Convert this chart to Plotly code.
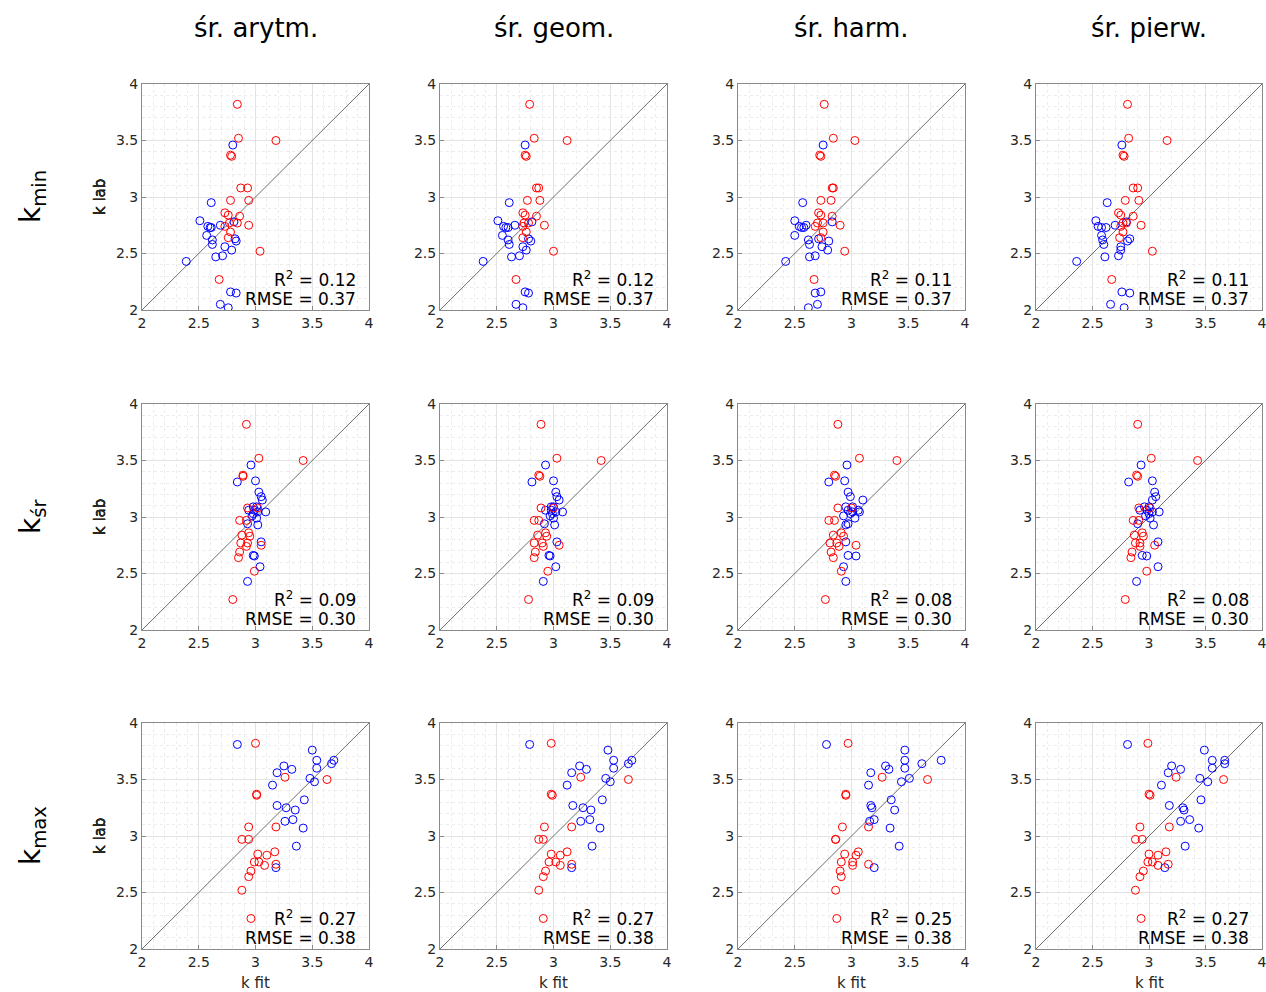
import plotly.graph_objects as go

# ---------------- data ----------------
col_titles = ["śr. arytm.", "śr. geom.", "śr. harm.", "śr. pierw."]
row_labels = ["k<sub>min</sub>", "k<sub>śr</sub>", "k<sub>max</sub>"]
tick_vals = [2, 2.5, 3, 3.5, 4]
tick_text = ["2", "2.5", "3", "3.5", "4"]

r2_vals = [["0.12", "0.12", "0.11", "0.11"],
           ["0.09", "0.09", "0.08", "0.08"],
           ["0.27", "0.27", "0.25", "0.27"]]
rmse_vals = [["0.37", "0.37", "0.37", "0.37"],
             ["0.30", "0.30", "0.30", "0.30"],
             ["0.38", "0.38", "0.38", "0.38"]]

# k lab (red group, same in every row)
red_lab = [3.82, 3.52, 3.50, 3.37, 3.36, 3.08, 3.08, 2.97, 2.97, 2.86,
           2.84, 2.83, 2.77, 2.77, 2.75, 2.74, 2.69, 2.64, 2.52, 2.27]
# k lab (blue group) per row
blue_lab_min = [3.46, 2.95, 2.79, 2.78, 2.75, 2.74, 2.73, 2.73, 2.66, 2.63, 2.62,
                2.61, 2.58, 2.56, 2.53, 2.48, 2.47, 2.43, 2.16, 2.15, 2.05, 2.02]
blue_lab_sr = [3.46, 3.32, 3.31, 3.22, 3.18, 3.15, 3.09, 3.09, 3.06, 3.06, 3.045,
               3.045, 3.03, 3.01, 2.99, 2.94, 2.93, 2.78, 2.66, 2.655, 2.56, 2.43]
blue_lab_max = [3.81, 3.76, 3.67, 3.67, 3.64, 3.62, 3.60, 3.59, 3.56, 3.51, 3.48,
                3.45, 3.32, 3.27, 3.25, 3.23, 3.145, 3.13, 3.07, 2.91, 2.72]

# k fit, row k_min
red_fit_min_ar = [2.84, 2.85, 3.18, 2.78, 2.79, 2.87, 2.93, 2.78, 2.94, 2.73,
                  2.76, 2.86, 2.84, 2.77, 2.94, 2.73, 2.78, 2.76, 3.04, 2.68]
blue_fit_min_ar = [2.80, 2.61, 2.51, 2.81, 2.69, 2.58, 2.60, 2.61, 2.57, 2.82, 2.62,
                   2.83, 2.62, 2.73, 2.79, 2.71, 2.65, 2.39, 2.78, 2.83, 2.69, 2.76]
red_fit_min_ge = [2.79, 2.83, 3.12, 2.75, 2.76, 2.85, 2.87, 2.77, 2.88, 2.73,
                  2.75, 2.85, 2.78, 2.74, 2.92, 2.73, 2.76, 2.73, 3.00, 2.67]
blue_fit_min_ge = [2.75, 2.61, 2.51, 2.81, 2.66, 2.56, 2.58, 2.60, 2.55, 2.78, 2.60,
                   2.80, 2.61, 2.73, 2.76, 2.70, 2.63, 2.38, 2.75, 2.78, 2.67, 2.73]
red_fit_min_ha = [2.76, 2.84, 3.03, 2.72, 2.73, 2.83, 2.84, 2.73, 2.82, 2.71,
                  2.73, 2.83, 2.75, 2.70, 2.90, 2.68, 2.75, 2.73, 2.94, 2.67]
blue_fit_min_ha = [2.75, 2.57, 2.50, 2.83, 2.60, 2.54, 2.56, 2.58, 2.50, 2.71, 2.62,
                   2.80, 2.63, 2.74, 2.79, 2.68, 2.63, 2.42, 2.73, 2.68, 2.70, 2.62]
red_fit_min_pi = [2.81, 2.82, 3.16, 2.77, 2.78, 2.86, 2.90, 2.79, 2.91, 2.73,
                  2.75, 2.86, 2.80, 2.77, 2.93, 2.75, 2.77, 2.74, 3.03, 2.67]
blue_fit_min_pi = [2.76, 2.63, 2.53, 2.80, 2.70, 2.55, 2.58, 2.62, 2.58, 2.83, 2.59,
                   2.81, 2.60, 2.75, 2.75, 2.73, 2.61, 2.36, 2.76, 2.83, 2.66, 2.78]

# k fit, row k_sr
red_fit_sr_ar = [2.92, 3.03, 3.42, 2.89, 2.89, 2.93, 3.02, 2.86, 2.92, 2.94,
                 2.88, 2.95, 2.87, 2.93, 3.05, 2.92, 2.86, 2.85, 2.99, 2.80]
blue_fit_sr_ar = [2.96, 3.00, 2.84, 3.03, 3.05, 3.06, 2.98, 3.01, 2.94, 2.99, 3.02,
                  3.09, 2.98, 2.97, 3.01, 2.93, 3.02, 3.05, 2.98, 2.99, 3.04, 2.93]
red_fit_sr_ge = [2.89, 3.03, 3.42, 2.87, 2.88, 2.89, 3.00, 2.83, 2.87, 2.93,
                 2.86, 2.94, 2.83, 2.90, 3.05, 2.91, 2.84, 2.83, 2.95, 2.78]
blue_fit_sr_ge = [2.93, 3.00, 2.81, 3.02, 3.03, 3.05, 2.98, 3.00, 2.93, 2.98, 3.02,
                  3.08, 2.99, 2.97, 3.00, 2.92, 3.01, 3.03, 2.96, 2.97, 3.02, 2.91]
red_fit_sr_ha = [2.88, 3.07, 3.40, 2.85, 2.86, 2.88, 3.00, 2.80, 2.85, 2.91,
                 2.84, 2.93, 2.81, 2.87, 3.04, 2.89, 2.82, 2.84, 2.91, 2.77]
blue_fit_sr_ha = [2.96, 2.94, 2.80, 2.97, 2.99, 3.10, 2.95, 3.01, 2.97, 3.06, 3.01,
                  3.07, 2.99, 2.93, 3.03, 2.97, 2.95, 2.95, 2.97, 3.04, 2.93, 2.95]
red_fit_sr_pi = [2.90, 3.02, 3.43, 2.89, 2.90, 2.91, 3.01, 2.86, 2.91, 2.94,
                 2.87, 2.95, 2.88, 2.92, 3.05, 2.92, 2.85, 2.84, 2.98, 2.79]
blue_fit_sr_pi = [2.93, 3.03, 2.82, 3.05, 3.06, 3.03, 2.96, 3.00, 2.92, 2.98, 3.03,
                  3.09, 3.00, 2.97, 3.01, 2.90, 3.04, 3.08, 2.94, 2.98, 3.08, 2.89]

# k fit, row k_max
red_fit_max_ar = [3.00, 3.26, 3.63, 3.01, 3.01, 2.94, 3.18, 2.88, 2.94, 3.17,
                  3.02, 3.10, 2.99, 3.03, 3.18, 3.08, 2.96, 2.94, 2.88, 2.96]
blue_fit_max_ar = [2.84, 3.50, 3.54, 3.69, 3.67, 3.25, 3.54, 3.32, 3.19, 3.48, 3.52,
                   3.15, 3.43, 3.19, 3.27, 3.35, 3.33, 3.26, 3.42, 3.36, 3.18]
red_fit_max_ge = [2.98, 3.24, 3.66, 2.98, 2.99, 2.92, 3.16, 2.87, 2.91, 3.12,
                  2.98, 3.06, 2.96, 3.02, 3.16, 3.06, 2.93, 2.91, 2.87, 2.91]
blue_fit_max_ge = [2.79, 3.48, 3.53, 3.69, 3.66, 3.23, 3.53, 3.29, 3.16, 3.46, 3.50,
                   3.12, 3.43, 3.17, 3.26, 3.33, 3.32, 3.24, 3.41, 3.34, 3.16]
red_fit_max_ha = [2.97, 3.27, 3.67, 2.95, 2.95, 2.92, 3.15, 2.86, 2.86, 3.06,
                  2.94, 3.04, 2.91, 3.01, 3.15, 3.01, 2.90, 2.91, 2.86, 2.87]
blue_fit_max_ha = [2.78, 3.47, 3.47, 3.79, 3.62, 3.30, 3.47, 3.33, 3.17, 3.51, 3.44,
                   3.15, 3.35, 3.17, 3.18, 3.38, 3.20, 3.16, 3.34, 3.42, 3.20]
red_fit_max_pi = [2.99, 3.24, 3.66, 3.00, 3.01, 2.92, 3.18, 2.88, 2.94, 3.15,
                  3.00, 3.08, 2.99, 3.03, 3.17, 3.08, 2.95, 2.92, 2.88, 2.93]
blue_fit_max_pi = [2.81, 3.49, 3.56, 3.67, 3.67, 3.20, 3.56, 3.28, 3.17, 3.45, 3.52,
                   3.11, 3.46, 3.18, 3.30, 3.31, 3.36, 3.28, 3.44, 3.32, 3.14]

# ---------------- assemble ----------------
blue_labs = [blue_lab_min, blue_lab_sr, blue_lab_max]
red_fits = [[red_fit_min_ar, red_fit_min_ge, red_fit_min_ha, red_fit_min_pi],
            [red_fit_sr_ar, red_fit_sr_ge, red_fit_sr_ha, red_fit_sr_pi],
            [red_fit_max_ar, red_fit_max_ge, red_fit_max_ha, red_fit_max_pi]]
blue_fits = [[blue_fit_min_ar, blue_fit_min_ge, blue_fit_min_ha, blue_fit_min_pi],
             [blue_fit_sr_ar, blue_fit_sr_ge, blue_fit_sr_ha, blue_fit_sr_pi],
             [blue_fit_max_ar, blue_fit_max_ge, blue_fit_max_ha, blue_fit_max_pi]]

W, H = 1266, 992
col_px = [(142, 369), (440, 667), (738, 965), (1036, 1262)]
row_px = [(84, 310), (404, 630), (723, 949)]

FONT = "DejaVu Sans"
AXC = "#8a8a8a"
TXT = "#262626"

fig = go.Figure()
annotations = []
layout_axes = {}

for r in range(3):
    for c in range(4):
        i = r * 4 + c + 1
        xa = "x" if i == 1 else f"x{i}"
        ya = "y" if i == 1 else f"y{i}"
        xkey = "xaxis" if i == 1 else f"xaxis{i}"
        ykey = "yaxis" if i == 1 else f"yaxis{i}"
        x0, x1 = col_px[c]
        y0, y1 = row_px[r]
        common = dict(
            range=[2, 4], tickvals=tick_vals, ticktext=tick_text,
            showline=True, mirror=True, linecolor=AXC, linewidth=1,
            ticks="inside", ticklen=4, tickcolor=AXC,
            showgrid=True, gridcolor="#e3e3e3", gridwidth=1,
            minor=dict(dtick=0.1, showgrid=True, gridcolor="#ececec",
                       griddash="dot", ticks=""),
            zeroline=False, fixedrange=True, automargin=False,
            ticklabeloverflow="allow",
            tickfont=dict(family=FONT, size=14, color=TXT),
        )
        layout_axes[xkey] = dict(common, domain=[x0 / W, x1 / W], anchor=ya)
        layout_axes[ykey] = dict(common, domain=[1 - y1 / H, 1 - y0 / H], anchor=xa)

        # diagonal 1:1 line
        fig.add_trace(go.Scatter(x=[2, 4], y=[2, 4], mode="lines",
                                 line=dict(color="#6e6e6e", width=1),
                                 xaxis=xa, yaxis=ya, showlegend=False,
                                 hoverinfo="skip"))
        fig.add_trace(go.Scatter(x=blue_fits[r][c], y=blue_labs[r], mode="markers",
                                 marker=dict(symbol="circle-open", size=8,
                                             color="#0000ff", line=dict(width=1)),
                                 xaxis=xa, yaxis=ya, showlegend=False))
        fig.add_trace(go.Scatter(x=red_fits[r][c], y=red_lab, mode="markers",
                                 marker=dict(symbol="circle-open", size=8,
                                             color="#ff0000", line=dict(width=1)),
                                 xaxis=xa, yaxis=ya, showlegend=False))

        annotations.append(dict(
            xref=xa, yref=ya, x=3.9, y=2.27, xanchor="right", yanchor="middle",
            text=f"R<sup>2</sup> = {r2_vals[r][c]}", showarrow=False,
            font=dict(family=FONT, size=17, color="#000000")))
        annotations.append(dict(
            xref=xa, yref=ya, x=3.9, y=2.10, xanchor="right", yanchor="middle",
            text=f"RMSE = {rmse_vals[r][c]}", showarrow=False,
            font=dict(family=FONT, size=17, color="#000000")))

        # y label
        annotations.append(dict(
            xref="paper", yref="paper", x=100 / W, y=1 - (y0 + y1) / 2 / H,
            text="k lab", textangle=-90, showarrow=False,
            xanchor="center", yanchor="middle",
            font=dict(family=FONT, size=15, color=TXT)))
        if r == 2:
            annotations.append(dict(
                xref="paper", yref="paper", x=(x0 + x1) / 2 / W, y=1 - 983 / H,
                text="k fit", showarrow=False, xanchor="center", yanchor="middle",
                font=dict(family=FONT, size=15, color=TXT)))

for c in range(4):
    x0, x1 = col_px[c]
    annotations.append(dict(
        xref="paper", yref="paper", x=(x0 + x1) / 2 / W, y=1 - 28 / H,
        text=col_titles[c], showarrow=False, xanchor="center", yanchor="middle",
        font=dict(family=FONT, size=26, color="#000000")))

for r in range(3):
    y0, y1 = row_px[r]
    annotations.append(dict(
        xref="paper", yref="paper", x=32 / W, y=1 - (y0 + y1) / 2 / H,
        text=row_labels[r], textangle=-90, showarrow=False,
        xanchor="center", yanchor="middle",
        font=dict(family=FONT, size=28, color="#000000")))

fig.update_layout(
    width=W, height=H,
    margin=dict(l=0, r=0, t=0, b=0, pad=0, autoexpand=False),
    paper_bgcolor="white", plot_bgcolor="white",
    showlegend=False, annotations=annotations,
    **layout_axes,
)

fig.write_html("out.html", config={"displayModeBar": False})
